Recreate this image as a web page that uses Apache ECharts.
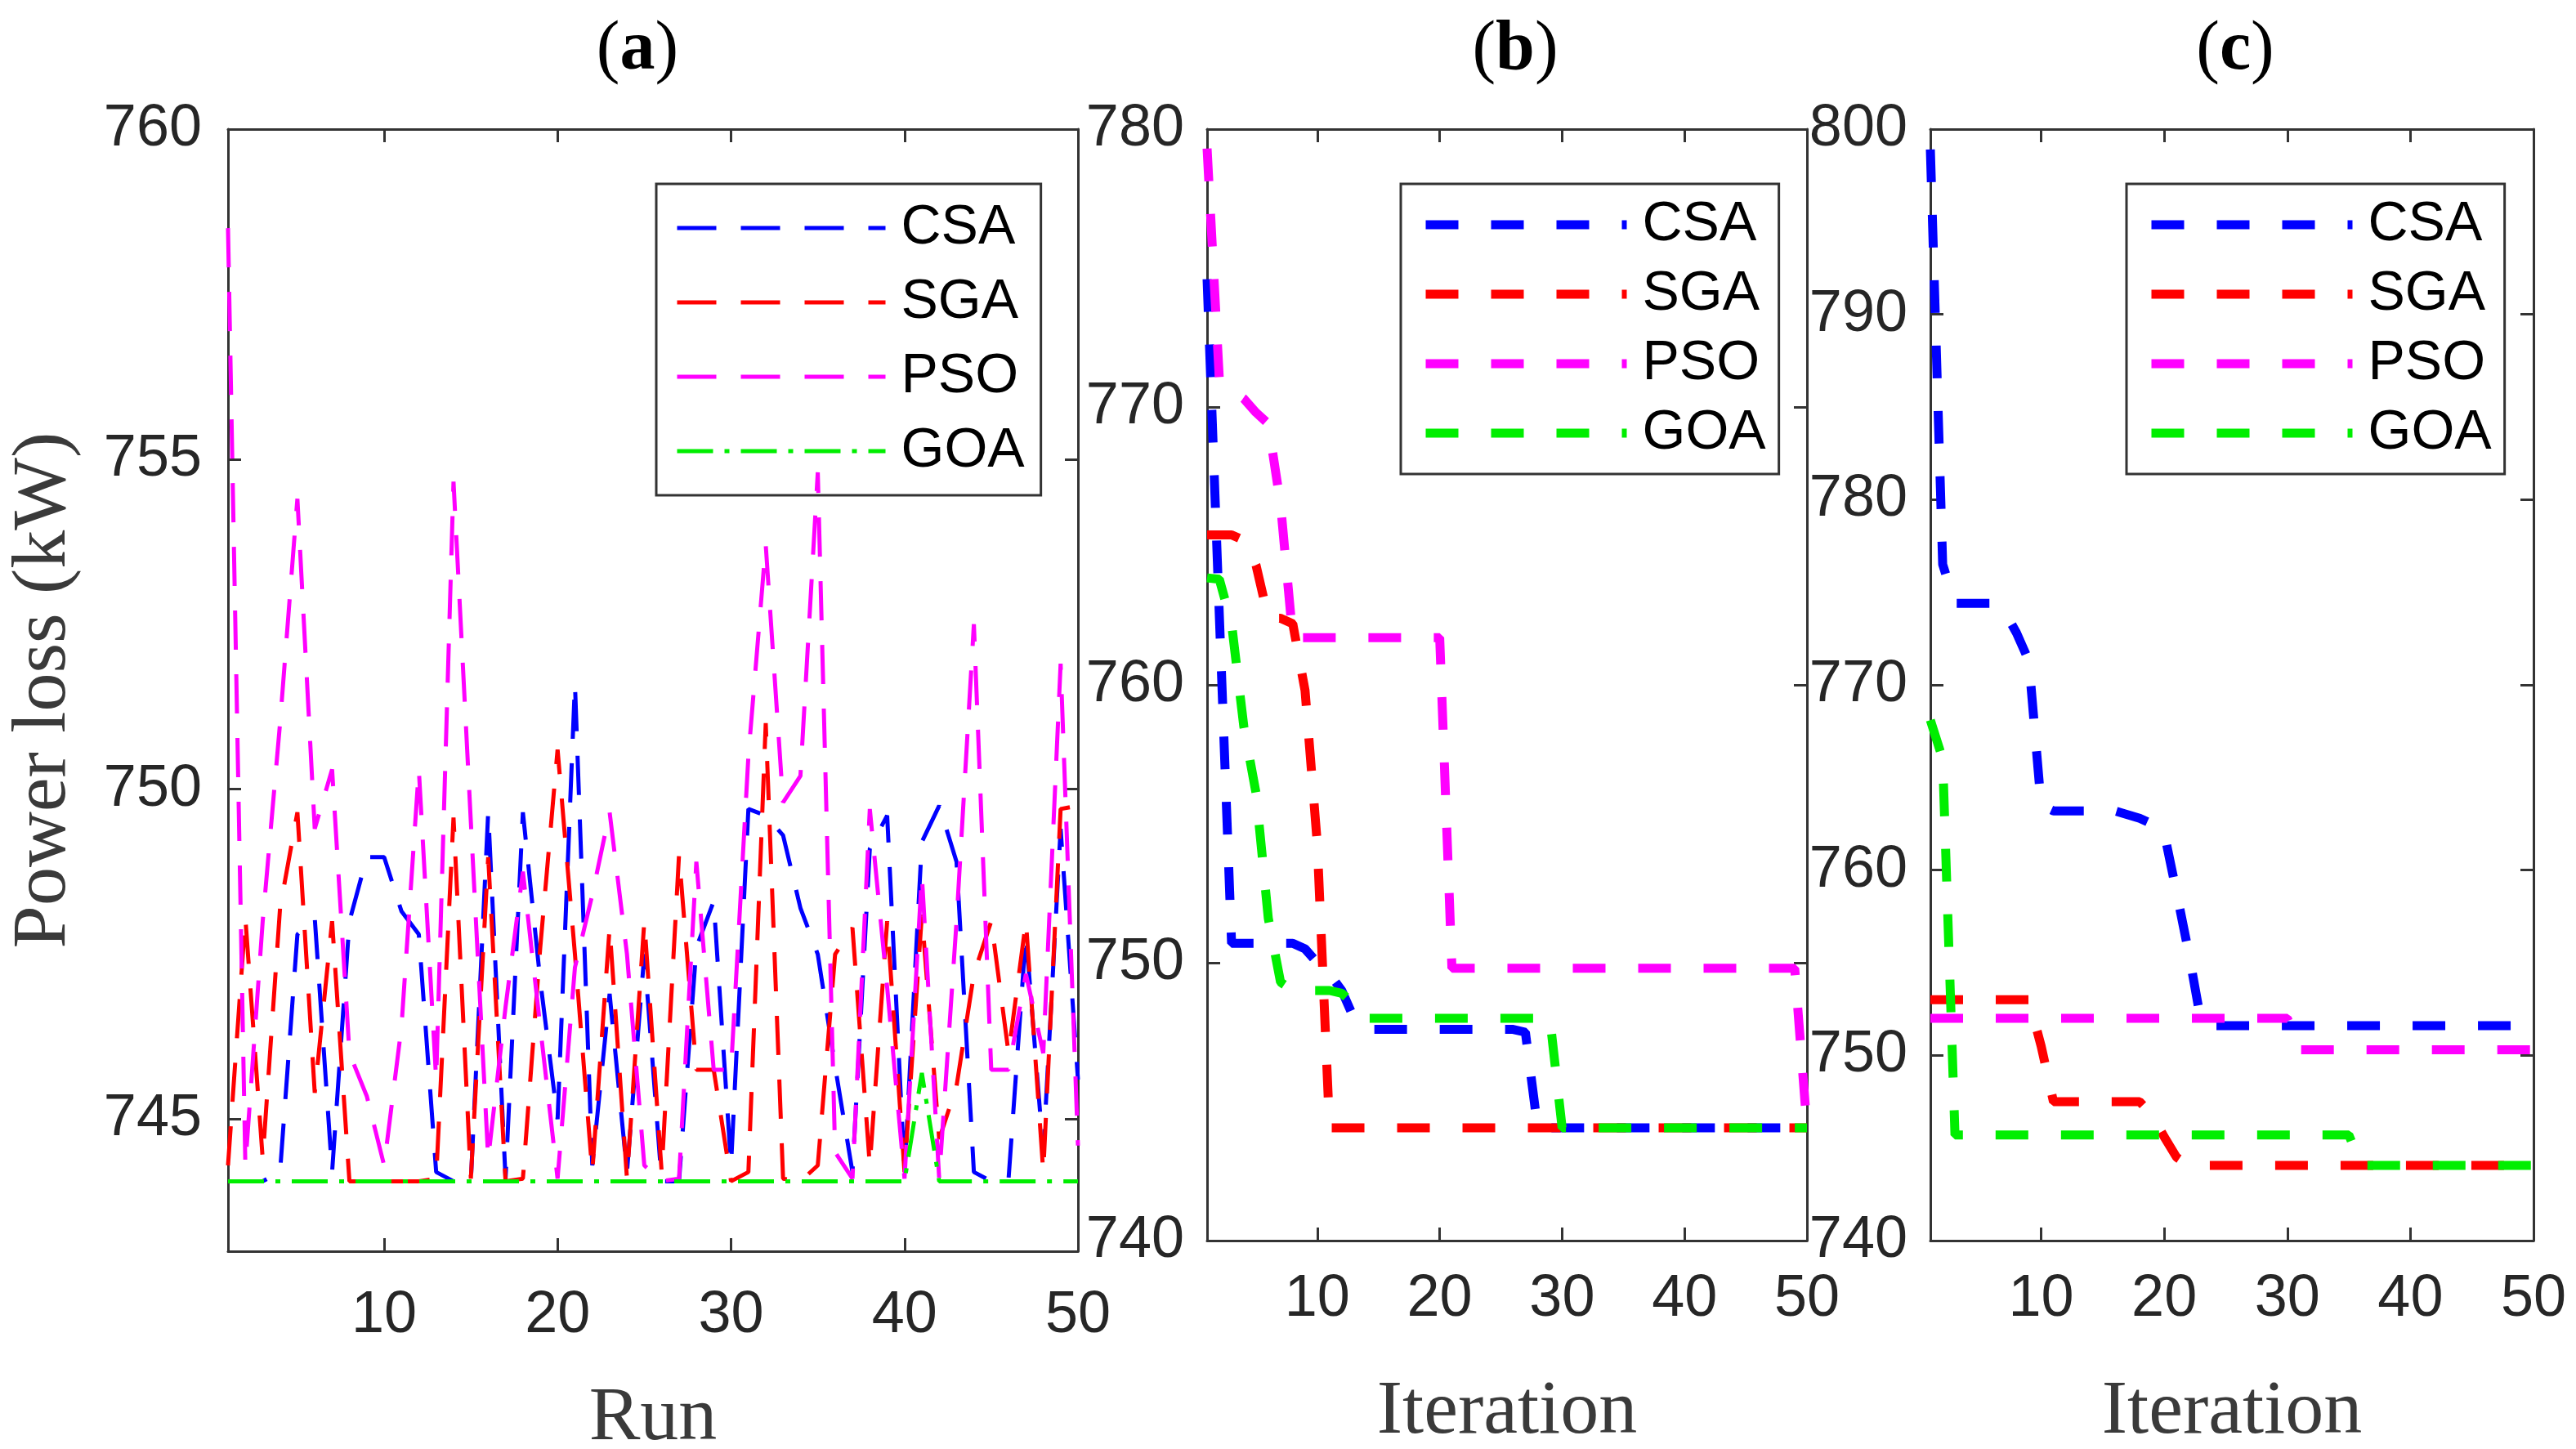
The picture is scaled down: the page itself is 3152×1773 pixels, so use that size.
<!DOCTYPE html>
<html>
<head>
<meta charset="utf-8">
<title>Power loss</title>
<script src="https://cdn.jsdelivr.net/npm/echarts@6/dist/echarts.min.js"></script>
<style>
  html, body { margin: 0; padding: 0; background: #fff; }
  #main { width: 3152px; height: 1773px; }
</style>
</head>
<body>
<div id="main"></div>
<script>
// x positions: run number (a) / iteration number (b, c)
var runs = [];
for (var i = 1; i <= 50; i++) runs.push(i);

var xTicks = [10, 20, 30, 40, 50];
var yTicksA = [745, 750, 755, 760];
var yTicksB = [740, 750, 760, 770, 780];
var yTicksC = [740, 750, 760, 770, 780, 790, 800];
var names = ['CSA', 'SGA', 'PSO', 'GOA'];

// (a) power loss per run
var csaA = [744.06, 744.06, 744.06, 744.2, 747.8, 748.05, 744.2, 748.0, 748.97, 748.97,
            748.15, 747.8, 744.2, 744.06, 744.06, 749.65, 744.1, 749.65, 747.1, 745.0,
            751.6, 744.3, 746.9, 744.2, 747.5, 744.06, 744.06, 747.6, 748.3, 744.3,
            749.7, 749.6, 749.3, 748.2, 747.5, 745.8, 744.2, 749.1, 749.6, 744.2,
            749.2, 749.75, 748.9, 744.2, 744.06, 744.1, 747.8, 744.5, 749.4, 745.6];
var sgaA = [744.3, 748.05, 744.4, 748.2, 749.65, 745.4, 748.0, 744.06, 744.06, 744.06,
            744.06, 744.06, 744.1, 749.57, 744.1, 748.97, 744.06, 744.1, 747.6, 750.6,
            747.5, 744.2, 747.9, 744.1, 748.0, 744.2, 749.0, 745.75, 745.75, 744.06,
            744.2, 751.0, 744.1, 744.06, 744.3, 747.5, 747.9, 744.3, 748.0, 744.2,
            748.1, 744.7, 745.5, 747.2, 748.0, 746.0, 748.0, 744.2, 749.7, 749.75];
var psoA = [758.5, 744.3, 748.0, 751.0, 754.4, 749.4, 750.3, 746.0, 745.35, 744.3,
            746.4, 750.3, 745.6, 754.66, 749.5, 744.4, 746.7, 748.75, 746.4, 744.1,
            747.3, 748.4, 749.65, 747.5, 744.3, 744.06, 744.1, 748.9, 745.75, 745.75,
            750.5, 753.7, 749.8, 750.2, 754.8, 744.5, 744.1, 749.7, 747.0, 744.1,
            748.7, 744.1, 748.0, 752.5, 745.75, 745.75, 747.2, 746.0, 751.9, 744.6];
var goaA = [744.06, 744.06, 744.06, 744.06, 744.06, 744.06, 744.06, 744.06, 744.06, 744.06,
            744.06, 744.06, 744.06, 744.06, 744.06, 744.06, 744.06, 744.06, 744.06, 744.06,
            744.06, 744.06, 744.06, 744.06, 744.06, 744.06, 744.06, 744.06, 744.06, 744.06,
            744.06, 744.06, 744.06, 744.06, 744.06, 744.06, 744.06, 744.06, 744.06, 744.06,
            745.7, 744.06, 744.06, 744.06, 744.06, 744.06, 744.06, 744.06, 744.06, 744.06];

// (b) convergence, case 1
var csaB = [774.6, 762.5, 750.7, 750.7, 750.7, 750.7, 750.7, 750.7, 750.5, 750.0,
            749.6, 749.0, 748.0, 747.6, 747.6, 747.6, 747.6, 747.6, 747.6, 747.6,
            747.6, 747.6, 747.6, 747.6, 747.6, 747.6, 747.5, 744.06, 744.06, 744.06,
            744.06, 744.06, 744.06, 744.06, 744.06, 744.06, 744.06, 744.06, 744.06, 744.06,
            744.06, 744.06, 744.06, 744.06, 744.06, 744.06, 744.06, 744.06, 744.06, 744.06];
var sgaB = [765.4, 765.4, 765.4, 765.2, 764.3, 762.4, 762.4, 762.2, 759.8, 754.3,
            744.06, 744.06, 744.06, 744.06, 744.06, 744.06, 744.06, 744.06, 744.06, 744.06,
            744.06, 744.06, 744.06, 744.06, 744.06, 744.06, 744.06, 744.06, 744.06, 744.06,
            744.06, 744.06, 744.06, 744.06, 744.06, 744.06, 744.06, 744.06, 744.06, 744.06,
            744.06, 744.06, 744.06, 744.06, 744.06, 744.06, 744.06, 744.06, 744.06, 744.06];
var psoB = [779.3, 771.0, 770.6, 770.3, 769.8, 769.4, 766.5, 761.7, 761.7, 761.7,
            761.7, 761.7, 761.7, 761.7, 761.7, 761.7, 761.7, 761.7, 761.7, 761.7,
            749.8, 749.8, 749.8, 749.8, 749.8, 749.8, 749.8, 749.8, 749.8, 749.8,
            749.8, 749.8, 749.8, 749.8, 749.8, 749.8, 749.8, 749.8, 749.8, 749.8,
            749.8, 749.8, 749.8, 749.8, 749.8, 749.8, 749.8, 749.8, 749.8, 744.06];
var goaB = [763.85, 763.8, 762.2, 758.5, 756.1, 751.6, 749.3, 749.0, 749.0, 749.0,
            749.0, 748.9, 748.5, 748.0, 748.0, 748.0, 748.0, 748.0, 748.0, 748.0,
            748.0, 748.0, 748.0, 748.0, 748.0, 748.0, 748.0, 748.0, 748.0, 744.06,
            744.06, 744.06, 744.06, 744.06, 744.06, 744.06, 744.06, 744.06, 744.06, 744.06,
            744.06, 744.06, 744.06, 744.06, 744.06, 744.06, 744.06, 744.06, 744.06, 744.06];

// (c) convergence, case 2
var csaC = [798.9, 776.5, 774.4, 774.4, 774.4, 774.4, 774.0, 772.8, 771.3, 763.5,
            763.2, 763.2, 763.2, 763.2, 763.2, 763.2, 763.0, 762.8, 762.5, 762.0,
            758.8, 755.5, 751.8, 751.6, 751.6, 751.6, 751.6, 751.6, 751.6, 751.6,
            751.6, 751.6, 751.6, 751.6, 751.6, 751.6, 751.6, 751.6, 751.6, 751.6,
            751.6, 751.6, 751.6, 751.6, 751.6, 751.6, 751.6, 751.6, 751.6, 751.6];
var sgaC = [753.0, 753.0, 753.0, 753.0, 753.0, 753.0, 753.0, 753.0, 753.0, 750.5,
            747.5, 747.5, 747.5, 747.5, 747.5, 747.5, 747.5, 747.5, 746.8, 745.6,
            744.5, 744.06, 744.06, 744.06, 744.06, 744.06, 744.06, 744.06, 744.06, 744.06,
            744.06, 744.06, 744.06, 744.06, 744.06, 744.06, 744.06, 744.06, 744.06, 744.06,
            744.06, 744.06, 744.06, 744.06, 744.06, 744.06, 744.06, 744.06, 744.06, 744.06];
var psoC = [752.0, 752.0, 752.0, 752.0, 752.0, 752.0, 752.0, 752.0, 752.0, 752.0,
            752.0, 752.0, 752.0, 752.0, 752.0, 752.0, 752.0, 752.0, 752.0, 752.0,
            752.0, 752.0, 752.0, 752.0, 752.0, 752.0, 752.0, 752.0, 752.0, 752.0,
            750.3, 750.3, 750.3, 750.3, 750.3, 750.3, 750.3, 750.3, 750.3, 750.3,
            750.3, 750.3, 750.3, 750.3, 750.3, 750.3, 750.3, 750.3, 750.3, 750.3];
var goaC = [768.1, 766.0, 745.7, 745.7, 745.7, 745.7, 745.7, 745.7, 745.7, 745.7,
            745.7, 745.7, 745.7, 745.7, 745.7, 745.7, 745.7, 745.7, 745.7, 745.7,
            745.7, 745.7, 745.7, 745.7, 745.7, 745.7, 745.7, 745.7, 745.7, 745.7,
            745.7, 745.7, 745.7, 745.7, 745.7, 744.06, 744.06, 744.06, 744.06, 744.06,
            744.06, 744.06, 744.06, 744.06, 744.06, 744.06, 744.06, 744.06, 744.06, 744.06];

var colors = ['#0000ff', '#ff0000', '#ff00ff', '#00ee00'];
var sans = 'Liberation Sans, Arial, sans-serif';
var serif = 'Liberation Serif, Times New Roman, serif';
var axisColor = '#333333';

function pairs(ys) {
    return ys.map(function (v, i) { return [runs[i], v]; });
}

function xAxes(g, labelMargin, name, nameGap) {
    var base = {
        type: 'value', gridIndex: g, min: 1, max: 50,
        axisLine: { show: true, onZero: false, lineStyle: { color: axisColor, width: 3 } },
        axisTick: { show: true, inside: true, length: 16, customValues: xTicks,
                    lineStyle: { color: axisColor, width: 3 } },
        splitLine: { show: false }
    };
    var bottom = echarts.util.merge({
        position: 'bottom',
        axisLabel: { customValues: xTicks, margin: labelMargin, fontSize: 72,
                     fontFamily: sans, color: '#262626' },
        name: name, nameLocation: 'middle', nameGap: nameGap, nameMoveOverlap: false,
        nameTextStyle: { fontFamily: serif, fontSize: 94, color: '#3a3a3a',
                         verticalAlign: 'middle' }
    }, base, true);
    var top = echarts.util.merge({ position: 'top', axisLabel: { show: false } }, base, true);
    return [bottom, top];
}

function yAxes(g, min, max, ticks, labelMargin, name) {
    var base = {
        type: 'value', gridIndex: g, min: min, max: max,
        axisLine: { show: true, onZero: false, lineStyle: { color: axisColor, width: 3 } },
        axisTick: { show: true, inside: true, length: 16, customValues: ticks,
                    lineStyle: { color: axisColor, width: 3 } },
        splitLine: { show: false }
    };
    var left = echarts.util.merge({
        position: 'left',
        axisLabel: { customValues: ticks, margin: labelMargin, fontSize: 72,
                     fontFamily: sans, color: '#262626' }
    }, base, true);
    if (name) {
        left.name = name;
        left.nameLocation = 'middle';
        left.nameGap = 178;
        left.nameMoveOverlap = false;
        left.nameTextStyle = { fontFamily: serif, fontSize: 94, color: '#3a3a3a' };
    }
    var right = echarts.util.merge({ position: 'right', axisLabel: { show: false } }, base, true);
    return [left, right];
}

function panelSeries(axisIdx, lists, width, dashes) {
    return lists.map(function (ys, k) {
        return {
            name: names[k], type: 'line', xAxisIndex: axisIdx, yAxisIndex: axisIdx,
            data: pairs(ys), symbol: 'none', showSymbol: false, z: 2 + k,
            itemStyle: { color: colors[k] },
            lineStyle: { color: colors[k], width: width, type: dashes[k] }
        };
    });
}

function legendBox(left, top, itemWidth, itemGap, padding, lineStyle) {
    return {
        data: names, orient: 'vertical', left: left, top: top,
        itemWidth: itemWidth, itemHeight: 20, itemGap: itemGap, padding: padding,
        borderColor: '#333', borderWidth: 3, backgroundColor: '#fff', borderRadius: 0,
        selectedMode: false, lineStyle: lineStyle,
        itemStyle: { opacity: 0 },
        textStyle: { fontFamily: sans, fontSize: 68, lineHeight: 66, color: '#000',
                     padding: [0, 0, 0, 14] }
    };
}

function panelTitle(letter, x) {
    return {
        text: '{p|(}{b|' + letter + '}{p|)}', left: x, top: 14, textAlign: 'center',
        textStyle: { rich: {
            p: { fontFamily: serif, fontSize: 86, fontWeight: 'normal', color: '#000' },
            b: { fontFamily: serif, fontSize: 86, fontWeight: 'bold', color: '#000' }
        } }
    };
}

var dashA = [48, 30];
var dashDotA = [44, 14, 6, 14];
var dashBC = [40, 40];

var myChart = echarts.init(document.getElementById('main'), null, { renderer: 'canvas' });

var option = {
    backgroundColor: '#ffffff',
    animation: false,
    title: [panelTitle('a', 775), panelTitle('b', 1849), panelTitle('c', 2730)],
    grid: [
        { left: 279, top: 158, width: 1040, height: 1373, containLabel: false, outerBoundsMode: 'none' },
        { left: 1477, top: 158, width: 734, height: 1360, containLabel: false, outerBoundsMode: 'none' },
        { left: 2362, top: 158, width: 738, height: 1360, containLabel: false, outerBoundsMode: 'none' }
    ],
    xAxis: [].concat(xAxes(0, 43, 'Run', 205), xAxes(1, 36, 'Iteration', 210), xAxes(2, 36, 'Iteration', 210)),
    yAxis: [].concat(yAxes(0, 743, 760, yTicksA, 32, 'Power loss (kW)'),
                     yAxes(1, 740, 780, yTicksB, 28),
                     yAxes(2, 740, 800, yTicksC, 28)),
    legend: [
        legendBox(803, 225, 255, 23, [20, 20, 20, 23], { width: 5 }),
        legendBox(1714, 225, 246, 17, [16, 16, 16, 25], { width: 11, type: dashBC }),
        legendBox(2602, 225, 246, 17, [16, 16, 16, 25], { width: 11, type: dashBC })
    ],
    series: [].concat(
        panelSeries(0, [csaA, sgaA, psoA, goaA], 5, [dashA, dashA, dashA, dashDotA]),
        panelSeries(2, [csaB, sgaB, psoB, goaB], 11, [dashBC, dashBC, dashBC, dashBC]),
        panelSeries(4, [csaC, sgaC, psoC, goaC], 11, [dashBC, dashBC, dashBC, dashBC])
    )
};
myChart.setOption(option);
</script>
</body>
</html>
